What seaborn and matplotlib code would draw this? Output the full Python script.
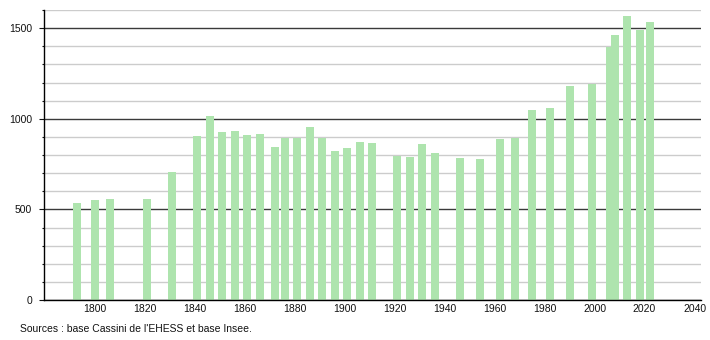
import numpy as np
import matplotlib
matplotlib.use("Agg")
import matplotlib.pyplot as plt
from matplotlib.ticker import MultipleLocator
import seaborn as sns

years = [1793, 1800, 1806, 1821, 1831, 1841, 1846, 1851, 1856, 1861, 1866,
         1872, 1876, 1881, 1886, 1891, 1896, 1901, 1906, 1911, 1921, 1926,
         1931, 1936, 1946, 1954, 1962, 1968, 1975, 1982, 1990, 1999, 2006,
         2008, 2013, 2018, 2022]
population = [537, 550, 559, 559, 706, 904, 1015, 928, 933, 911, 915,
              846, 894, 894, 952, 894, 822, 839, 872, 867, 794, 789,
              861, 811, 783, 778, 889, 894, 1050, 1061, 1178, 1191, 1398,
              1463, 1566, 1490, 1532]
x_ticks = list(range(1800, 2041, 20))
y_ticks = [0, 500, 1000, 1500]
source_text = "Sources : base Cassini de l'EHESS et base Insee."

sns.set_style("white")
plt.rcParams['font.family'] = ['Liberation Sans', 'DejaVu Sans']

W, H = 710, 340
fig = plt.figure(figsize=(W / 100, H / 100), dpi=100)
ax = fig.add_axes([44 / W, (H - 300) / H, (701 - 44) / W, 290 / H])

bar_years = 3.2
width = bar_years / np.min(np.diff(sorted(set(years))))
sns.barplot(x=years, y=population, native_scale=True, color="#aee4ae",
            saturation=1, width=width, errorbar=None, ax=ax, linewidth=0)

ax.set_xlim(1779.6, 2042.6)
ax.set_ylim(0, 1600)
ax.set_xticks(x_ticks)
ax.set_xticklabels([str(t) for t in x_ticks])
ax.set_yticks(y_ticks)
ax.set_yticklabels([str(t) for t in y_ticks])
ax.yaxis.set_minor_locator(MultipleLocator(100))
ax.set_axisbelow(True)
ax.grid(which='major', axis='y', color='#3a3a3a', lw=1.0)
ax.grid(which='minor', axis='y', color='#cccccc', lw=1.0)
ax.grid(which='major', axis='x', visible=False)

for s in ['top', 'right']:
    ax.spines[s].set_visible(False)
for s in ['left', 'bottom']:
    ax.spines[s].set_color('black')
    ax.spines[s].set_linewidth(1.0)

ax.tick_params(axis='x', length=0, pad=3.2, labelsize=7.5, colors='#111111')
ax.tick_params(axis='y', which='major', length=3.6, width=0.8, pad=5, labelsize=7.5,
               colors='#111111', left=True)
ax.tick_params(axis='y', which='minor', length=1.5, width=0.8, left=True, color='#111111')
ax.set_xlabel("")
ax.set_ylabel("")

fig.text(20 / W, 1 - 329 / H, source_text, fontsize=7.5, va='center', ha='left',
         color='#111111')

fig.savefig("out.png", dpi=100)
